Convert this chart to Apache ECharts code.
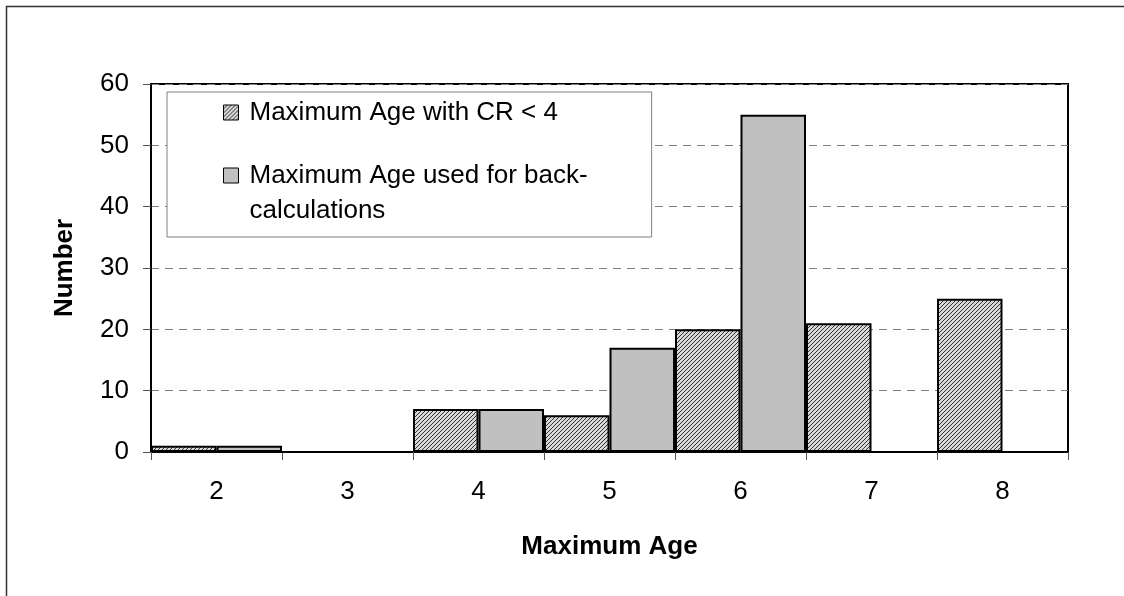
<!DOCTYPE html>
<html>
<head>
<meta charset="utf-8">
<script src="https://cdn.jsdelivr.net/npm/echarts@6/dist/echarts.min.js"></script>
<style>
html,body{margin:0;padding:0;background:#fff;}
#chart{width:1124px;height:596px;}
</style>
</head>
<body>
<div id="chart"></div>
<script>
var categories = ['2', '3', '4', '5', '6', '7', '8'];
var seriesNames = ['Maximum Age with CR < 4', 'Maximum Age used for back-calculations'];
var crBelow4 = [1, 0, 7, 6, 20, 21, 25];
var usedForBackCalc = [1, 0, 7, 17, 55, 0, 0];
var yTicks = [0, 10, 20, 30, 40, 50, 60];

function makeHatch() {
  var c = document.createElement('canvas');
  c.width = 4; c.height = 4;
  var g = c.getContext('2d');
  g.fillStyle = '#d8d8d8';
  g.fillRect(0, 0, 4, 4);
  g.strokeStyle = '#333';
  g.lineWidth = 1;
  g.beginPath();
  g.moveTo(-1, 5); g.lineTo(5, -1);
  g.moveTo(-1, 1); g.lineTo(1, -1);
  g.moveTo(3, 5); g.lineTo(5, 3);
  g.stroke();
  return c;
}
var hatch = makeHatch();

var font = 'Liberation Sans, Arial, sans-serif';
var chart = echarts.init(document.getElementById('chart'), null, {renderer: 'canvas'});
chart.setOption({
  animation: false,
  backgroundColor: '#fff',
  graphic: [{
    type: 'rect', left: 4, top: 4, z: -10,
    shape: {width: 1140, height: 591},
    style: {fill: 'none', stroke: '#333', lineWidth: 1.5}
  }],
  grid: {left: 151, right: 56, top: 84, bottom: 144, show: true, borderColor: '#000', borderWidth: 2, backgroundColor: 'transparent'},
  legend: {
    left: 167, top: 92, orient: 'vertical',
    data: [{name: seriesNames[0], icon: 'rect'}, {name: seriesNames[1], icon: 'rect'}],
    itemWidth: 15, itemHeight: 15, itemGap: -7,
    itemStyle: {borderColor: '#000', borderWidth: 1},
    backgroundColor: '#fff',
    borderColor: '#808080', borderWidth: 1,
    padding: [3, 64, 9, 56],
    textStyle: {fontFamily: font, fontSize: 26, color: '#000', lineHeight: 35, padding: [0, 0, 0, 6]},
    formatter: function (name) {
      if (name === seriesNames[1]) return '\nMaximum Age used for back-\ncalculations';
      return name;
    },
    selectedMode: false
  },
  xAxis: {
    type: 'category', data: categories,
    name: 'Maximum Age', nameLocation: 'middle', nameGap: 82,
    nameTextStyle: {fontFamily: font, fontSize: 26, fontWeight: 'bold', color: '#000'},
    axisLine: {lineStyle: {color: '#000', width: 2}},
    axisTick: {show: true, length: 8, lineStyle: {color: '#555', width: 1}},
    axisLabel: {fontFamily: font, fontSize: 26, color: '#000', margin: 27},
    splitLine: {show: false}
  },
  yAxis: {
    type: 'value', min: 0, max: 60, interval: 10,
    name: 'Number', nameLocation: 'middle', nameGap: 73, nameRotate: 90,
    nameTextStyle: {fontFamily: font, fontSize: 26, fontWeight: 'bold', color: '#000'},
    axisLine: {show: true, lineStyle: {color: '#000', width: 2}},
    axisTick: {show: true, length: 8, lineStyle: {color: '#555', width: 1}},
    axisLabel: {fontFamily: font, fontSize: 26, color: '#000', margin: 22,
      formatter: function (v) { return yTicks.indexOf(v) >= 0 ? String(v) : ''; }},
    splitLine: {show: true, lineStyle: {color: '#808080', width: 1, type: [8, 6]}}
  },
  series: [{
    name: seriesNames[0], type: 'bar', data: crBelow4,
    barGap: '0%', barCategoryGap: '0%',
    itemStyle: {color: {image: hatch, repeat: 'repeat'}, borderColor: '#000', borderWidth: 2}
  }, {
    name: seriesNames[1], type: 'bar', data: usedForBackCalc,
    barGap: '0%', barCategoryGap: '0%',
    itemStyle: {color: '#c0c0c0', borderColor: '#000', borderWidth: 2}
  }]
});
</script>
</body>
</html>
